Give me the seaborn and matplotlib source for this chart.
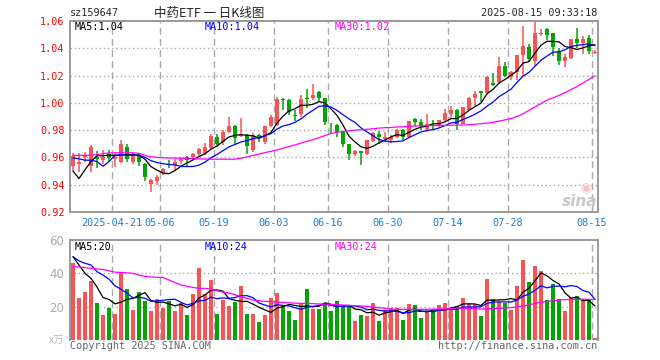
"""
Daily K-line chart for sz159647 (中药ETF), candles + volume
"""

import numpy as np
import pandas as pd
import matplotlib
matplotlib.use("Agg")
import matplotlib.pyplot as plt
import seaborn as sns

# ---- data ----
opens = [0.954, 0.9555, 0.960, 0.954, 0.9605, 0.958, 0.9625, 0.9585, 0.957, 0.968,
         0.957, 0.962, 0.955, 0.9405, 0.943, 0.9488, 0.9555, 0.9545, 0.9575, 0.960,
         0.960, 0.9625, 0.9635, 0.967, 0.975, 0.9713, 0.979, 0.9828, 0.9757, 0.9762,
         0.9652, 0.9762, 0.9713, 0.9828, 0.9835, 1.0031, 1.002, 0.991, 0.9915, 1.0032,
         1.0034, 1.0076, 1.0032, 0.9812, 0.9836, 0.9787, 0.9696, 0.9623, 0.9645, 0.9627,
         0.9721, 0.9774, 0.9733, 0.9726, 0.975, 0.9804, 0.975, 0.9885, 0.986, 0.9811,
         0.9838, 0.9836, 0.9873, 0.9917, 0.9951, 0.9848, 0.9951, 1.0037, 1.0088, 1.0075,
         1.0145, 1.0152, 1.027, 1.019, 1.0227, 1.035, 1.041, 1.031, 1.0502, 1.0541,
         1.051, 1.038, 1.0306, 1.033, 1.0468, 1.0436, 1.0477, 1.0362]
highs = [0.963, 0.963, 0.964, 0.969, 0.9645, 0.9655, 0.9655, 0.963, 0.973, 0.970,
         0.964, 0.963, 0.956, 0.944, 0.947, 0.952, 0.958, 0.959, 0.960, 0.961,
         0.963, 0.967, 0.9705, 0.977, 0.977, 0.980, 0.9897, 0.984, 0.989, 0.977,
         0.978, 0.977, 0.983, 0.991, 1.004, 1.0035, 1.003, 0.9946, 1.006, 1.0105,
         1.0137, 1.0085, 1.0035, 0.9853, 0.9845, 0.979, 0.970, 0.9652, 0.9648, 0.9727,
         0.9785, 0.9794, 0.9787, 0.9762, 0.981, 0.981, 0.987, 0.989, 0.9885, 0.9921,
         0.9873, 0.9878, 0.9958, 0.9975, 0.9955, 0.997, 1.004, 1.0085, 1.009, 1.0195,
         1.022, 1.0338, 1.030, 1.0235, 1.035, 1.0565, 1.0435, 1.0607, 1.0545, 1.0546,
         1.0515, 1.040, 1.0355, 1.047, 1.0546, 1.049, 1.050, 1.0385]
lows = [0.950, 0.949, 0.9565, 0.949, 0.952, 0.955, 0.957, 0.953, 0.956, 0.957,
        0.955, 0.954, 0.943, 0.935, 0.940, 0.947, 0.952, 0.951, 0.955, 0.954,
        0.958, 0.961, 0.962, 0.966, 0.968, 0.969, 0.978, 0.969, 0.975, 0.9625,
        0.964, 0.971, 0.970, 0.982, 0.983, 0.9946, 0.991, 0.987, 0.990, 0.996,
        1.002, 1.0005, 0.984, 0.977, 0.9747, 0.9677, 0.9583, 0.9608, 0.9547, 0.962,
        0.971, 0.970, 0.9713, 0.9706, 0.9745, 0.9726, 0.9745, 0.9828, 0.9804, 0.9787,
        0.980, 0.9826, 0.986, 0.9885, 0.9799, 0.9845, 0.995, 0.9975, 1.0005, 1.007,
        1.0125, 1.014, 1.019, 1.0166, 1.0166, 1.0195, 1.030, 1.027, 1.049, 1.046,
        1.034, 1.028, 1.0264, 1.032, 1.040, 1.036, 1.036, 1.0355]
closes = [0.961, 0.957, 0.9615, 0.968, 0.959, 0.9605, 0.9598, 0.960, 0.970, 0.959,
          0.962, 0.9566, 0.9456, 0.9432, 0.946, 0.9512, 0.9545, 0.957, 0.959, 0.958,
          0.9625, 0.9665, 0.9675, 0.9755, 0.970, 0.979, 0.9828, 0.974, 0.9774, 0.9683,
          0.9767, 0.974, 0.9828, 0.9897, 1.0027, 1.002, 0.9934, 0.9905, 1.0027, 1.0025,
          1.0056, 1.0032, 0.986, 0.9805, 0.9787, 0.9701, 0.9627, 0.9645, 0.9632, 0.9726,
          0.978, 0.975, 0.975, 0.975, 0.9804, 0.975, 0.9868, 0.986, 0.9828, 0.9843,
          0.9833, 0.9873, 0.9926, 0.9946, 0.9848, 0.9966, 1.0037, 1.0064, 1.0075, 1.0188,
          1.013, 1.027, 1.0195, 1.0227, 1.035, 1.0418, 1.032, 1.051, 1.0514, 1.0497,
          1.041, 1.0306, 1.0338, 1.0468, 1.0436, 1.0468, 1.038, 1.0375]
volume = [46.4, 25.4, 29, 35.6, 22.4, 15.2, 19.4, 15.8, 40.6, 30.8,
          18.2, 29, 23.4, 17.4, 24.6, 19.4, 23.6, 17.6, 22, 15.2,
          27.6, 43.4, 27.4, 36, 15.8, 24, 20.6, 23, 32.4, 15.8,
          15.8, 11, 15, 25.4, 28.4, 20.4, 17.6, 12, 22, 30.4,
          18.4, 18.4, 22.2, 17.4, 23.4, 20.4, 20.4, 11.4, 15, 14.4,
          22.2, 11.4, 18, 19, 19, 12, 21.6, 21, 13.2, 16.6,
          17.4, 21, 22.2, 19, 20.4, 25.4, 21.6, 21.6, 14.6, 36.6,
          24.6, 23, 22, 18, 32.4, 48, 34.8, 44.4, 41.4, 24,
          33.8, 24.6, 17.4, 25.8, 26.5, 24.2, 24.6, 1]

price_ma30 = [0.9615, 0.9615, 0.9615, 0.9617, 0.962, 0.9628, 0.9633, 0.9634, 0.9634, 0.9634,
              0.9633, 0.963, 0.9615, 0.9605, 0.960, 0.9597, 0.9596, 0.9595, 0.9594, 0.9593,
              0.9592, 0.959, 0.9588, 0.9587, 0.9587, 0.9587, 0.9587, 0.9587, 0.9595, 0.9603,
              0.9615, 0.9625, 0.9635, 0.9645, 0.9655, 0.9668, 0.968, 0.9692, 0.9705, 0.9718,
              0.973, 0.9745, 0.976, 0.9775, 0.9785, 0.979, 0.9795, 0.980, 0.9803, 0.9806,
              0.981, 0.9815, 0.9818, 0.982, 0.9823, 0.9825, 0.9828, 0.983, 0.9832, 0.9833,
              0.9834, 0.9835, 0.9835, 0.9836, 0.9837, 0.9838, 0.984, 0.9843, 0.9847, 0.9852,
              0.9858, 0.9866, 0.9875, 0.9885, 0.990, 0.992, 0.9945, 0.997, 0.9995, 1.002,
              1.0037, 1.0055, 1.0075, 1.0097, 1.012, 1.0145, 1.0172, 1.0198]
vol_ma30 = [44, 43.8, 43.5, 43, 42.6, 42.3, 41.5, 40.7, 40.5, 40.3,
            40, 39, 38.2, 37.8, 37.6, 37.5, 36, 34.5, 33, 32.2,
            31.5, 31, 31, 30.5, 29.5, 28.8, 28.2, 27.2, 26, 25,
            24, 23.5, 23.2, 23, 22.8, 22.5, 22.3, 22.1, 22, 22,
            21.8, 21.6, 21.5, 21.4, 21.2, 21, 20.8, 20.6, 20.4, 20.2,
            19.8, 19.4, 19, 18.6, 18.4, 18.4, 18.4, 18.4, 18.4, 18.4,
            18.5, 18.6, 18.7, 18.8, 19, 19, 18.9, 18.8, 18.6, 18.7,
            18.8, 19, 19.2, 19.4, 19.8, 20.4, 21, 22, 22.6, 23.1,
            23.5, 24, 24.2, 24.3, 24.4, 24.4, 24.4, 24.4]
# warm-up part of MA5 / MA10 (window not full yet)
price_ma5_head = [0.950, 0.9445, 0.951, 0.957]
price_ma10_head = [0.9596, 0.959, 0.958, 0.958, 0.957, 0.9535, 0.957, 0.9615, 0.962]
vol_ma5_head = [50, 45, 40, 37]
vol_ma10_head = [50, 47.5, 46, 45, 41, 39, 36.5, 32.5, 30.5]

date_idx = [7, 15, 24, 34, 43, 53, 63, 73, 87]
date_labels = ["2025-04-21", "05-06", "05-19", "06-03", "06-16",
               "06-30", "07-14", "07-28", "08-15"]
price_ticks = [0.92, 0.94, 0.96, 0.98, 1.00, 1.02, 1.04, 1.06]
vol_ticks = [20, 40, 60]

RED = "#f75555"
GREEN = "#04a404"
GRID = "#aaaaaa"
FRAME = "#999999"


def moving_avg(values, n, head):
    ma = pd.Series(values).rolling(n).mean().to_numpy()
    ma[:len(head)] = head
    return ma


def px(x, y):
    """pixel position -> figure fraction"""
    return x / 660, 1 - y / 360


df = pd.DataFrame({"open": opens, "high": highs, "low": lows,
                   "close": closes, "vol": volume})
df["i"] = np.arange(len(df))
df["up"] = df["close"] >= df["open"]
df["color"] = np.where(df["up"], RED, GREEN)
df["ma5"] = moving_avg(closes, 5, price_ma5_head)
df["ma10"] = moving_avg(closes, 10, price_ma10_head)
df["ma30"] = price_ma30
df["vma5"] = moving_avg(volume, 5, vol_ma5_head)
df["vma10"] = moving_avg(volume, 10, vol_ma10_head)
df["vma30"] = vol_ma30

sns.set_style("white")
plt.rcParams["font.family"] = ["DejaVu Sans Mono", "Noto Sans CJK SC"]
plt.rcParams["patch.force_edgecolor"] = False

fig = plt.figure(figsize=(6.6, 3.6), dpi=100)
ax1 = fig.add_axes([70 / 660, 1 - 212 / 360, 528 / 660, 191 / 360])
ax2 = fig.add_axes([70 / 660, 1 - 340 / 360, 528 / 660, 100 / 360])

n = len(df)
for ax in (ax1, ax2):
    ax.set_xlim(-0.5, n - 0.5)
    for i in date_idx:
        ax.axvline(i - 0.5, color=GRID, lw=1, ls=(0, (5, 3)), zorder=0)
    for s in ax.spines.values():
        s.set_color(FRAME)
        s.set_linewidth(1.4)

# ---- price panel ----
ax1.set_ylim(0.92, 1.06)
for y in price_ticks[1:-1]:
    ax1.axhline(y, color=GRID, lw=1, ls=(0, (1, 2)), zorder=0)

ax1.vlines(df["i"], df["low"], df["high"], colors=df["color"], lw=1.1, zorder=2)
body = (df["close"] - df["open"]).abs().clip(lower=0.0006)
ax1.bar(df["i"], body, bottom=df[["open", "close"]].min(axis=1),
        width=0.78, color=df["color"], linewidth=0, zorder=3)

sns.lineplot(data=df, x="i", y="ma5", ax=ax1, color="black", lw=0.9, zorder=4)
sns.lineplot(data=df, x="i", y="ma10", ax=ax1, color="#0000ff", lw=0.9, zorder=4)
sns.lineplot(data=df, x="i", y="ma30", ax=ax1, color="#ff00ff", lw=0.9, zorder=4)

ax1.set_yticks(price_ticks)
ax1.set_yticklabels([f"{t:.2f}" for t in price_ticks])
ax1.set_xticks([i - 0.5 for i in date_idx])
ax1.set_xticklabels(date_labels)
ax1.tick_params(axis="y", colors="red", length=0, pad=4, labelsize=7.3)
ax1.tick_params(axis="x", colors="#1a7fd6", length=0, pad=4.5, labelsize=7.3)
ax1.set_xlabel("")
ax1.set_ylabel("")

# ---- volume panel ----
ax2.set_ylim(0, 60)
for y in vol_ticks[:-1]:
    ax2.axhline(y, color=GRID, lw=1, ls=(0, (1, 2)), zorder=0)
ax2.bar(df["i"], df["vol"], width=0.78, color=df["color"], linewidth=0, zorder=2)
sns.lineplot(data=df, x="i", y="vma5", ax=ax2, color="black", lw=0.9, zorder=4)
sns.lineplot(data=df, x="i", y="vma10", ax=ax2, color="#0000ff", lw=0.9, zorder=4)
sns.lineplot(data=df, x="i", y="vma30", ax=ax2, color="#ff00ff", lw=0.9, zorder=4)
ax2.spines["bottom"].set_visible(False)
ax2.set_yticks(vol_ticks)
ax2.set_yticklabels([str(t) for t in vol_ticks], family="DejaVu Sans")
ax2.set_xticks([])
ax2.tick_params(axis="y", colors="#aaaaaa", length=0, pad=4, labelsize=8.5)
ax2.set_xlabel("")
ax2.set_ylabel("")

# ---- texts ----
fs = 7.3
fig.text(*px(70, 13), "sz159647", fontsize=fs, va="center", ha="left")
fig.text(*px(209, 13), "中药ETF 一 日K线图", fontsize=9, va="center", ha="center",
         family=["Noto Sans CJK SC", "DejaVu Sans"])
fig.text(*px(597, 13), "2025-08-15 09:33:18", fontsize=fs, va="center", ha="right")

last = df.iloc[-1]
fig.text(*px(75, 27), f"MA5:{last['ma5']:.2f}", fontsize=fs, va="center", color="black")
fig.text(*px(205, 27), f"MA10:{last['ma10']:.2f}", fontsize=fs, va="center", color="#0000ff")
fig.text(*px(335, 27), f"MA30:{last['ma30']:.2f}", fontsize=fs, va="center", color="#ff00ff")
fig.text(*px(75, 247), f"MA5:{last['vma5']:.0f}", fontsize=fs, va="center", color="black")
fig.text(*px(205, 247), f"MA10:{last['vma10']:.0f}", fontsize=fs, va="center", color="#0000ff")
fig.text(*px(335, 247), f"MA30:{last['vma30']:.0f}", fontsize=fs, va="center", color="#ff00ff")

fig.text(*px(70, 346), "Copyright 2025 SINA.COM", fontsize=fs, va="center", color="#666666")
fig.text(*px(597, 346), "http://finance.sina.com.cn", fontsize=fs, va="center",
         ha="right", color="#666666")
fig.text(*px(57, 341), "x万", fontsize=7.5, va="center", ha="center", color="#bbbbbb",
         family=["Noto Sans CJK SC", "DejaVu Sans"], style="italic")
# sina watermark
fig.text(*px(586, 189), "◉", fontsize=9, va="center", ha="center", color="#f3c4c4",
         family="DejaVu Sans")
fig.text(*px(580, 202), "sina", fontsize=11, va="center", ha="center", color="#c8c8c8",
         family="DejaVu Sans", weight="bold", style="italic")

fig.savefig("out.png", dpi=100)
